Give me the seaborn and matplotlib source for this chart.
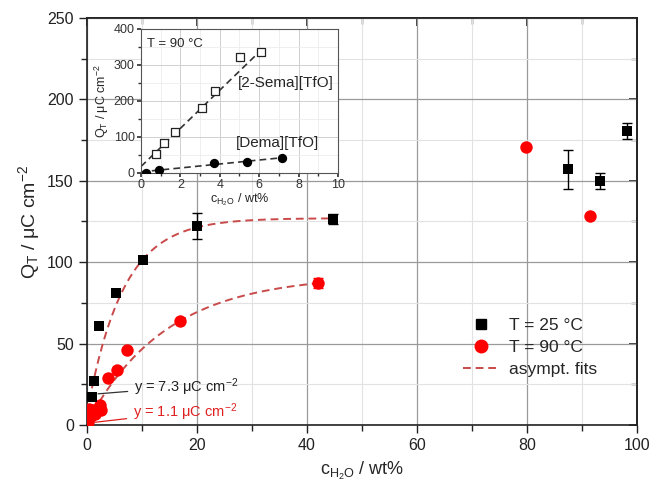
import numpy as np
import pandas as pd
import matplotlib
matplotlib.use("Agg")
import matplotlib.pyplot as plt
import seaborn as sns
from matplotlib.lines import Line2D

# ---------------- data ----------------
t25_x = [0.85, 1.2, 2.2, 5.2, 10.1, 20.0, 44.7, 87.5, 93.3, 98.2]
t25_y = [17.5, 27.0, 60.5, 81.0, 101.5, 122.0, 126.5, 157.0, 150.0, 180.5]
t25_err = [0, 0, 0, 0, 0, 8.0, 3.0, 12.0, 5.0, 5.0]

t90_x = [0.2, 0.3, 0.6, 0.9, 1.4, 1.8, 2.4, 2.6, 3.9, 5.4, 7.2, 16.9, 42.0, 79.8, 91.5]
t90_y = [2.0, 10.0, 5.0, 9.0, 7.0, 10.0, 12.5, 9.0, 29.0, 34.0, 46.0, 64.0, 87.0, 171.0, 128.5]
t90_err = [0, 0, 0, 0, 0, 0, 0, 0, 0, 0, 0, 0, 3.0, 0, 0]

# asymptotic fit parameters: y = A - (A - y0) * exp(-x / t)
fit25 = dict(A=127.0, y0=7.3, t=6.55, xmax=44.7)
fit90 = dict(A=92.0, y0=1.1, t=14.4, xmax=42.0)

# inset (T = 90 °C)
sema_x = [0.76, 1.18, 1.73, 3.11, 3.76, 5.03, 6.09]
sema_y = [52, 82.5, 115, 180, 228.7, 323, 337]
dema_x = [0.24, 0.91, 3.71, 5.4, 7.17]
dema_y = [1, 8, 27, 30, 42.5]
sema_fit = dict(a=18.0, b=53.0, xmax=6.1)
dema_fit = dict(a=3.0, b=5.5, xmax=7.2)

x_ticks = [0, 20, 40, 60, 80, 100]
y_ticks = [0, 50, 100, 150, 200, 250]
legend_labels = ["T = 25 °C", "T = 90 °C", "asympt. fits"]

# ---------------- style ----------------
sns.set_theme(style="ticks")
plt.rcParams['font.family'] = ['Liberation Sans', 'DejaVu Sans']
plt.rcParams['mathtext.fontset'] = 'custom'
plt.rcParams['mathtext.rm'] = 'Liberation Sans'
plt.rcParams['mathtext.it'] = 'Liberation Sans'

fig = plt.figure(figsize=(6.52, 4.87), dpi=100)
ax = fig.add_axes([0.1334, 0.1273, 0.8436, 0.836])

fitcol = "#c94a4a"

df25 = pd.DataFrame({"x": t25_x, "y": t25_y, "e": t25_err})
df90 = pd.DataFrame({"x": t90_x, "y": t90_y, "e": t90_err})

def asym(p):
    xs = np.linspace(0, p["xmax"], 200)
    return xs, p["A"] - (p["A"] - p["y0"]) * np.exp(-xs / p["t"])

fx, fy = asym(fit25)
sns.lineplot(x=fx, y=fy, ax=ax, color=fitcol, lw=1.4, zorder=3, label="_nolegend_")
ax.lines[-1].set_dashes((4, 2.5))
fx, fy = asym(fit90)
sns.lineplot(x=fx, y=fy, ax=ax, color=fitcol, lw=1.4, zorder=3, label="_nolegend_")
ax.lines[-1].set_dashes((4, 2.5))

m = df25["e"] > 0
ax.errorbar(df25.x[m], df25.y[m], yerr=df25.e[m], fmt="none", ecolor="black", elinewidth=1, capsize=3.5, zorder=4)
m = df90["e"] > 0
ax.errorbar(df90.x[m], df90.y[m], yerr=df90.e[m], fmt="none", ecolor="red", elinewidth=1, capsize=3.5, zorder=4)

sns.scatterplot(data=df90, x="x", y="y", ax=ax, marker="o", s=80, color="red", edgecolor="red", linewidth=0, zorder=5)
sns.scatterplot(data=df25, x="x", y="y", ax=ax, marker="s", s=60, color="black", edgecolor="black", linewidth=0, zorder=6)

ax.set_xlim(0, 100)
ax.set_ylim(0, 250)
ax.set_xticks(x_ticks)
ax.set_yticks(y_ticks)
ax.set_xticks([10, 30, 50, 70, 90], minor=True)
ax.set_yticks([25, 75, 125, 175, 225], minor=True)
ax.grid(which="major", color="#9a9a9a", lw=0.9)
ax.grid(which="minor", color="#e2e2e2", lw=0.8)
ax.set_axisbelow(True)
ax.tick_params(which="both", direction="out", labelsize=11.5, colors="#222222")
ax.tick_params(which="major", length=6, width=1)
ax.tick_params(which="minor", length=4, width=1)
for s in ax.spines.values():
    s.set_linewidth(1.2)
    s.set_color("#222222")
axr = ax.secondary_yaxis("right")
axr.set_yticks(y_ticks)
axr.set_yticks([25, 75, 125, 175, 225], minor=True)
axr.tick_params(which="both", direction="in", labelright=False)
axr.tick_params(which="major", length=6)
axr.tick_params(which="minor", length=4)
axt = ax.secondary_xaxis("top")
axt.set_xticks(x_ticks)
axt.set_xticks([10, 30, 50, 70, 90], minor=True)
axt.tick_params(which="both", direction="in", labeltop=False)
axt.tick_params(which="major", length=6)
axt.tick_params(which="minor", length=4)

ax.set_xlabel(r"c$_{\mathrm{H_2O}}$ / wt%", fontsize=13, labelpad=5)
ax.set_ylabel(r"Q$_{\mathrm{T}}$ / $\mu$C cm$^{-2}$", fontsize=14, labelpad=4)

ax.annotate(r"y = 7.3 $\mu$C cm$^{-2}$", xy=(1.5, 19), xytext=(8.5, 23.5),
            fontsize=10.5, color="#222222", va="center",
            arrowprops=dict(arrowstyle="-", color="#333333", lw=0.9))
ax.annotate(r"y = 1.1 $\mu$C cm$^{-2}$", xy=(1.0, 1.5), xytext=(8.3, 8.0),
            fontsize=10.5, color="#e02020", va="center",
            arrowprops=dict(arrowstyle="-", color="#e02020", lw=0.9))

handles = [Line2D([], [], marker="s", ls="none", color="black", markersize=7.5),
           Line2D([], [], marker="o", ls="none", color="red", markersize=9),
           Line2D([], [], ls=(0, (4, 2.5)), color=fitcol, lw=1.4)]
ax.legend(handles, legend_labels, loc="lower right",
          bbox_to_anchor=(0.955, 0.08), frameon=False, fontsize=12.5,
          handlelength=2.0, handletextpad=0.6, labelspacing=0.4)

# ---------------- inset ----------------
ins = fig.add_axes([0.2163, 0.6448, 0.302, 0.2957])
ins.set_facecolor("white")
ins.set_xlim(0, 10)
ins.set_ylim(0, 400)
xs = np.linspace(0, sema_fit["xmax"], 50)
sns.lineplot(x=xs, y=sema_fit["a"] + sema_fit["b"] * xs, ax=ins, color="#333333", lw=1.2)
ins.lines[-1].set_dashes((4, 2.5))
xs = np.linspace(0, dema_fit["xmax"], 50)
sns.lineplot(x=xs, y=dema_fit["a"] + dema_fit["b"] * xs, ax=ins, color="#333333", lw=1.2)
ins.lines[-1].set_dashes((4, 2.5))
sns.scatterplot(x=sema_x, y=sema_y, ax=ins, marker="s", s=40, facecolor="white", edgecolor="#222222", linewidth=0.9, zorder=5)
sns.scatterplot(x=dema_x, y=dema_y, ax=ins, marker="o", s=45, color="black", linewidth=0, zorder=5)
ins.set_xticks([0, 2, 4, 6, 8, 10])
ins.set_yticks([0, 100, 200, 300, 400])
ins.set_xticks([1, 3, 5, 7, 9], minor=True)
ins.set_yticks([50, 150, 250, 350], minor=True)
ins.grid(which="major", color="#d0d0d0", lw=0.7)
ins.grid(which="minor", color="#ececec", lw=0.6)
ins.set_axisbelow(True)
ins.tick_params(which="both", direction="out", labelsize=9, pad=1.5, colors="#333333")
ins.tick_params(which="major", length=3)
ins.tick_params(which="minor", length=2)
for s in ins.spines.values():
    s.set_linewidth(0.8)
    s.set_color("#555555")
ins.set_xlabel(r"c$_{\mathrm{H_2O}}$ / wt%", fontsize=9, labelpad=0)
ins.set_ylabel(r"Q$_{\mathrm{T}}$ / $\mu$C cm$^{-2}$", fontsize=9, labelpad=2)
ins.text(0.3, 375, "T = 90 °C", fontsize=9.5, va="top")
ins.text(4.9, 250, "[2-Sema][TfO]", fontsize=11, va="center")
ins.text(4.8, 82, "[Dema][TfO]", fontsize=11, va="center")

fig.savefig("out.png", dpi=100)
